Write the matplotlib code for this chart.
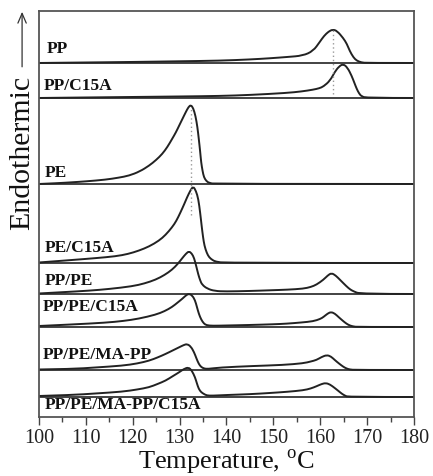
import numpy as np
import matplotlib
matplotlib.use('Agg')
import matplotlib.pyplot as plt
from matplotlib.path import Path
from matplotlib.patches import PathPatch, FancyArrowPatch

plt.rcParams['font.family'] = ['Liberation Serif', 'DejaVu Serif']
plt.rcParams['mathtext.fontset'] = 'custom'
plt.rcParams['mathtext.rm'] = 'Liberation Serif'

# sample names, top to bottom, and the stacking offset of each baseline
names = ['PP', 'PP/C15A', 'PE', 'PE/C15A', 'PP/PE', 'PP/PE/C15A',
         'PP/PE/MA-PP', 'PP/PE/MA-PP/C15A']
offsets = [354, 319, 233, 154, 123, 90, 47, 20]

# DSC heat flow (temperature in C, height above baseline)
pp_t = [100, 110, 120, 130, 138.6, 145, 149.3, 153, 156.3, 158.5, 159.9, 160.8,
        161.8, 162.7, 163.6, 164.9, 165.7, 166.3, 167.1, 167.8, 168.8, 170, 180]
pp_h = [0, 0.5, 1, 1.7, 2.3, 3.5, 4.7, 6, 7.3, 12, 21, 27,
        31.5, 33.5, 32, 25, 19, 12, 5.5, 2.3, 0.5, 0, 0]

ppc_t = [100, 110, 120, 130, 138.6, 145, 152.8, 156, 158.5, 159.8, 160.7, 162.1,
         163.1, 164.0, 164.9, 165.8, 166.7, 167.3, 167.8, 168.3, 168.8, 169.9, 180]
ppc_h = [0, 0.5, 1, 1.5, 2, 3, 5, 6.5, 8.3, 9.7, 11.5, 17.3,
         26, 31.5, 34, 30.5, 22.3, 15, 9, 4.5, 1.7, 0, 0]

pe_t = [100, 104, 107.1, 110, 114.2, 117, 119.2, 121.5, 123.5, 125, 126.3, 127.4,
        128.4, 129.2, 129.9, 130.6, 131.3, 131.9, 132.4, 132.9, 133.4, 133.8, 134.1,
        134.4, 134.6, 134.9, 135.2, 135.7, 136.3, 137.7, 180]
pe_h = [0, 0.8, 1.7, 2.6, 4.3, 6.3, 8.3, 12.5, 18.3, 24, 30, 37,
        45, 51.5, 58.3, 65, 71.7, 77, 79, 76, 68, 57, 45,
        32, 21.7, 13, 6.7, 3, 1, 0, 0]

pec_t = [100, 107.1, 112, 116.4, 119, 121.3, 123.5, 125.6, 127, 128.4, 129.3, 130.2,
         131, 131.6, 132.3, 132.9, 133.5, 134.0, 134.4, 134.7, 135, 135.3, 135.8,
         136.3, 137, 137.7, 139.8, 180]
pec_h = [0.5, 3, 4.8, 6.7, 9, 12.3, 16.5, 22.3, 28, 35.7, 42, 50.7,
         59, 65.7, 72.5, 76.7, 72, 64, 50, 37.3, 26, 17.3, 10,
         5.7, 3, 1.3, 0, 0]

pppe_t = [100, 105, 110.7, 115, 119.9, 122.5, 124.9, 126.8, 128.4, 129.6, 130.6, 131.4,
          132, 132.6, 133.1, 133.6, 134, 134.4, 134.8, 135.9, 137.5, 139.8, 145,
          149.3, 153, 156.4, 158, 159.2, 160.7, 161.6, 162.4, 163.3, 164.2, 165.6,
          166.4, 167.1, 168.5, 180]
pppe_h = [0.5, 1.8, 3.3, 5, 7.7, 10.5, 14.3, 19, 24.3, 30, 36, 40.5,
          42.7, 40.5, 36, 27, 19.3, 13.5, 9.3, 5.3, 3, 2.5, 3,
          3.7, 4.3, 5.3, 7, 9.3, 14.3, 18.5, 21, 18.5, 14.3, 7.7,
          4.5, 2.7, 0, 0]

pppec_t = [100, 107, 114.2, 118, 121.3, 124.9, 126.8, 128.4, 129.6, 130.6, 131.4, 132,
           132.7, 133.3, 133.7, 134.1, 134.6, 135.2, 135.8, 137, 140, 145, 150,
           152.8, 156, 158.5, 160, 160.7, 161.6, 162.3, 163.1, 163.9, 164.8, 165.6,
           166.3, 167.1, 168, 180]
pppec_h = [1, 2.5, 4.3, 6, 8.3, 12.3, 15.8, 20, 24.5, 28.3, 31.8, 33.3,
           31.5, 26.7, 20, 13.3, 7.5, 3.3, 1.7, 1.2, 1.5, 2, 2.7,
           3.3, 4.5, 5.7, 8, 10, 13.5, 15, 13.5, 10, 6.3, 3.3,
           1.5, 0.5, 0, 0]

ma_t = [100, 107.1, 112, 117.8, 121, 123.5, 125.3, 127, 128.6, 129.9, 130.9, 131.6,
        132.4, 133.1, 133.6, 134.1, 134.6, 135.2, 136, 138.6, 145.7, 152, 156.4,
        158, 159.2, 160.3, 161.4, 162.3, 163.1, 164, 164.9, 165.6, 166.3, 167.5, 180]
ma_h = [0.5, 1, 2.5, 4.3, 6.5, 9.3, 12.5, 16, 19.7, 22.7, 25, 26,
        23.5, 17.7, 11.5, 6, 3, 1.5, 1, 2.5, 4, 5, 6.7,
        8.5, 10, 13, 15, 13.5, 10, 6.5, 3.3, 1.5, 0.5, 0, 0]

mac_t = [100, 107.1, 112, 117.8, 121, 123.5, 125.3, 127, 128.6, 129.9, 130.9, 131.9,
         132.6, 133.3, 133.7, 134.1, 134.6, 135.2, 135.8, 137, 140, 145, 149.3,
         153, 156.4, 158, 159.2, 160.3, 161.2, 162.1, 163.1, 163.9, 164.6, 165.3,
         166, 180]
mac_h = [1, 2, 3.5, 5.3, 7.5, 9.7, 13, 16.3, 21, 24.7, 28, 29.7,
         26.5, 19.7, 13.5, 8, 4.8, 3, 1.5, 1.3, 2, 2.8, 4,
         5.2, 6.7, 8.5, 10.7, 13, 14, 12.5, 9, 6, 3.3, 1.3,
         0, 0]

temps = [pp_t, ppc_t, pe_t, pec_t, pppe_t, pppec_t, ma_t, mac_t]
heights = [pp_h, ppc_h, pe_h, pec_h, pppe_h, pppec_h, ma_h, mac_h]

# melting peak guides (temperature of PP and PE peaks)
guide_temps = [162.7, 132.4]


def smooth_path(x, y):
    # quadratic bezier through midpoints, the read points act as control points
    x = np.asarray(x, float)
    y = np.asarray(y, float)
    verts = [(x[0], y[0])]
    codes = [Path.MOVETO]
    for i in range(1, len(x) - 1):
        mx, my = (x[i] + x[i + 1]) / 2, (y[i] + y[i + 1]) / 2
        if i == len(x) - 2:
            mx, my = x[-1], y[-1]
        verts += [(x[i], y[i]), (mx, my)]
        codes += [Path.CURVE3, Path.CURVE3]
    return Path(verts, codes)


fig = plt.figure(figsize=(4.33, 4.77), dpi=100)
ax = fig.add_axes([0.090, 0.1237, 0.866, 0.8512])

line_col = '#222222'
for t, h, off in zip(temps, heights, offsets):
    ax.axhline(off, color=line_col, lw=1.2)
    ax.add_patch(PathPatch(smooth_path(t, np.array(h) + off), fill=False,
                           edgecolor=line_col, lw=1.4))

# dotted vertical lines at PP and PE peaks
ax.vlines(guide_temps[0], offsets[1] + 4, offsets[0] + max(pp_h) - 1,
          colors='#999999', linestyles=(0, (1, 2)), lw=1.0)
ax.vlines(guide_temps[1], offsets[3] + 48, offsets[2] + max(pe_h) - 4,
          colors='#999999', linestyles=(0, (1, 2)), lw=1.0)

label_y = [361, 324, 237, 162, 129, 103, 55, 5]
label_x = [101.7, 101.1, 101.3, 101.3, 101.3, 100.9, 100.9, 101.3]
for name, lx, ly in zip(names, label_x, label_y):
    ax.text(lx, ly, name, fontsize=12.5, fontweight='bold', ha='left', va='bottom',
            color='#111111')

ax.set_xlim(100, 180)
ax.set_ylim(0, 406)
ax.set_xticks(np.arange(100, 181, 10))
ax.set_xticks(np.arange(105, 180, 10), minor=True)
ax.set_yticks([])
ax.tick_params(axis='x', which='major', length=6, width=1.0, color='#444444',
               labelsize=14.5, pad=2, labelcolor='#222222')
ax.tick_params(axis='x', which='minor', length=3.5, width=1.0, color='#444444')
for s in ax.spines.values():
    s.set_color('#555555')
    s.set_linewidth(1.3)

fig.text(0.522, 0.031, r'Temperature, $^{\mathrm{o}}$C', fontsize=19,
         ha='center', va='center', color='#111111')
fig.text(0.051, 0.680, 'Endothermic', fontsize=21.5, rotation=90,
         ha='center', va='center', color='#111111')
fig.add_artist(FancyArrowPatch(
    (0.051, 0.852), (0.051, 0.979), transform=fig.transFigure,
    arrowstyle='->,head_length=7,head_width=3', color='#333333', lw=0.9))

fig.savefig('out.png', dpi=100)
